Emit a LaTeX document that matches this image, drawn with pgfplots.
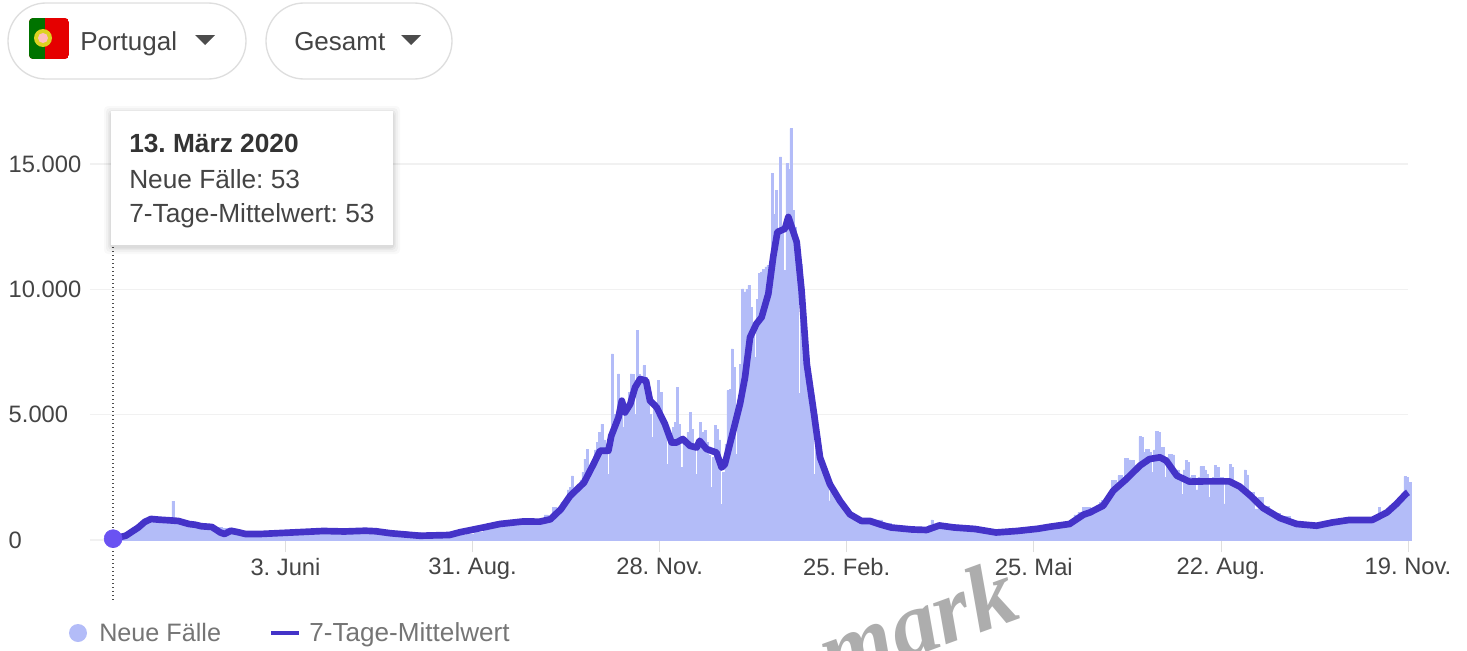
\documentclass[border=0pt]{standalone}
\usepackage{fontspec}
\setmainfont{Liberation Sans}
\newfontfamily\wmfont{Liberation Serif}
\usepackage{pgfplots}
\usepackage{pgfplotstable}
\pgfplotsset{compat=1.18}
\definecolor{barc}{HTML}{B3BCF8}
\definecolor{linec}{HTML}{4433C8}
\definecolor{markc}{HTML}{6A52F2}
\definecolor{gridc}{HTML}{F1F1F1}
\definecolor{txtc}{HTML}{444444}
\definecolor{legc}{HTML}{757575}
\frenchspacing
\pgfplotstableread[row sep=\\]{
d v\\
0 53\\ 2 60\\ 4 120\\ 6 180\\ 8 300\\ 10 400\\ 12 600\\ 14 700\\ 16 800\\ 18 900\\ 20 850\\ 22 780\\ 24 850\\ 27 800\\ 28 1550\\ 29 800\\ 31 800\\ 33 750\\ 35 700\\ 37 650\\ 39 600\\ 41 560\\ 43 500\\ 46 520\\ 49 500\\ 52 450\\ 55 350\\ 57 280\\ 59 230\\ 61 200\\ 63 300\\ 65 330\\ 67 310\\ 69 250\\ 71 180\\ 73 200\\ 76 190\\ 80 200\\ 84 220\\ 90 250\\ 96 300\\ 102 340\\ 108 360\\ 114 300\\ 118 340\\ 124 370\\ 130 360\\ 136 350\\ 140 300\\ 146 220\\ 150 190\\ 156 170\\ 162 190\\ 168 240\\ 172 300\\ 176 380\\ 178 450\\ 180 550\\ 184 640\\ 188 700\\ 190 720\\ 194 760\\ 198 820\\ 200 780\\ 203 750\\
205 1000\\ 207 900\\ 209 1300\\ 211 1100\\ 213 1500\\ 215 1600\\ 216 2000\\ 217 2100\\ 218 2560\\ 219 1900\\ 220 2050\\ 221 2200\\ 222 2400\\ 223 2700\\ 224 3225\\ 225 3625\\ 226 2700\\ 227 2800\\ 228 3200\\ 229 3600\\ 230 3900\\ 231 4300\\ 232 4625\\ 233 4000\\ 234 3500\\ 235 2625\\ 236 3500\\ 237 7425\\ 238 5000\\ 239 4500\\ 240 6625\\ 241 5500\\ 242 4490\\ 243 5000\\ 244 5200\\ 245 5900\\ 246 6625\\ 247 6600\\ 248 5000\\ 249 8360\\ 250 6600\\ 251 6500\\ 252 6960\\ 253 6500\\ 254 5600\\ 255 5000\\ 256 4090\\ 257 5300\\ 258 5500\\ 259 6360\\ 260 5900\\ 261 4900\\ 262 4300\\ 263 3025\\ 264 4000\\ 265 3900\\ 266 4500\\ 267 4700\\ 268 6090\\ 269 4600\\ 270 2890\\ 271 3900\\ 272 3800\\ 273 4300\\ 274 5090\\ 275 4400\\ 276 3700\\ 277 2625\\ 278 3800\\ 279 4690\\ 280 4300\\ 281 4360\\ 282 3900\\ 283 3400\\ 284 2090\\ 285 3300\\ 286 4560\\ 287 4400\\ 288 4000\\ 289 1430\\ 290 2700\\ 291 3825\\ 292 5960\\ 293 6000\\ 294 7625\\ 295 6890\\ 296 3425\\ 297 5500\\ 298 7000\\ 299 10025\\ 300 9900\\ 301 10000\\ 302 10160\\ 303 9290\\ 304 8500\\ 305 7290\\ 306 9600\\ 307 10625\\ 308 10700\\ 309 10800\\ 310 10900\\ 311 10960\\ 312 9800\\ 313 14620\\ 314 13000\\ 315 13960\\ 316 12000\\ 317 15290\\ 318 12500\\ 319 10760\\ 320 15020\\ 321 14800\\ 322 16420\\ 323 13160\\ 324 12500\\ 325 12000\\ 326 5860\\ 327 11000\\ 328 9500\\ 329 8000\\ 330 7300\\ 331 6500\\ 332 6000\\ 333 2625\\ 334 5000\\ 335 4000\\ 336 3300\\ 337 3200\\ 338 2800\\ 339 2600\\ 340 1560\\ 341 2200\\ 342 2000\\ 343 1800\\ 344 1650\\ 345 1500\\ 347 1300\\ 349 1100\\ 351 950\\ 353 850\\ 355 800\\ 358 780\\ 362 800\\ 366 650\\ 370 520\\ 375 450\\ 380 420\\ 386 450\\ 388 600\\ 389 800\\ 390 500\\ 393 650\\ 397 600\\ 403 520\\ 410 450\\ 416 340\\ 422 320\\ 428 370\\ 434 420\\ 440 500\\ 445 600\\ 450 650\\ 455 700\\ 457 1000\\ 459 1100\\ 461 1300\\ 465 1200\\ 469 1500\\ 470 1570\\ 472 1500\\ 473 1700\\ 475 2370\\ 477 2300\\ 478 2570\\ 480 2500\\ 481 3260\\ 483 3200\\ 484 3165\\ 486 3000\\ 487 2900\\ 488 4120\\ 489 4100\\ 490 3500\\ 491 3630\\ 493 3500\\ 494 2700\\ 495 3600\\ 496 4335\\ 497 4300\\ 498 3700\\ 500 2500\\ 501 3300\\ 502 3430\\ 504 3400\\ 505 2800\\ 507 2600\\ 508 1835\\ 509 2800\\ 510 3165\\ 511 3100\\ 512 2500\\ 513 2570\\ 515 2000\\ 516 2500\\ 517 2930\\ 519 2800\\ 520 2630\\ 521 1700\\ 522 2400\\ 523 2500\\ 524 2970\\ 525 2900\\ 526 2500\\ 528 1440\\ 529 2400\\ 531 3030\\ 532 2900\\ 533 2300\\ 535 2200\\ 537 2100\\ 538 2800\\ 539 2600\\ 540 1800\\ 541 1900\\ 543 1240\\ 545 1700\\ 547 1350\\ 550 1050\\ 555 950\\ 560 720\\ 565 640\\ 572 620\\ 580 740\\ 590 830\\ 598 850\\ 601 850\\ 602 1300\\ 603 1100\\ 606 1150\\ 608 1400\\ 610 1600\\ 612 1750\\ 614 2530\\ 615 2500\\ 616 2300\\ 617.5 2300\\
}\bardata
\pgfplotstableread[row sep=\\]{
d v\\
0 53\\ 6 170\\ 12 500\\ 15 720\\ 18 840\\ 22 810\\ 26 790\\ 31 760\\ 36 640\\ 39 610\\ 42 550\\ 47 520\\ 51 300\\ 53 240\\ 56 370\\ 59 320\\ 63 240\\ 70 240\\ 80 280\\ 90 320\\ 100 360\\ 110 340\\ 120 370\\ 125 350\\ 132 270\\ 146 170\\ 160 200\\ 165 310\\ 175 480\\ 184 640\\ 195 740\\ 203 733\\ 208 826\\ 213 1226\\ 217.4 1760\\ 224 2290\\ 228.5 3025\\ 231.6 3560\\ 235.6 3560\\ 237 4160\\ 240.4 4890\\ 242 5560\\ 243.5 5090\\ 246 5425\\ 248.3 6090\\ 250.7 6425\\ 253.5 6360\\ 255.4 5560\\ 258.6 5290\\ 262.5 4630\\ 265.7 3890\\ 268 3890\\ 271 4030\\ 274.4 3760\\ 277.6 3690\\ 279 3960\\ 282.3 3630\\ 287 3490\\ 289.5 2890\\ 291 3025\\ 294.2 4090\\ 298.2 5425\\ 300.6 6490\\ 303 8090\\ 306 8625\\ 308.5 8890\\ 311.7 9825\\ 314 11290\\ 316 12290\\ 319.6 12420\\ 321.2 12890\\ 325.2 11890\\ 327.5 9960\\ 330 7025\\ 333 5290\\ 336.3 3290\\ 341 2225\\ 345.8 1560\\ 350.5 1026\\ 356 760\\ 360 760\\ 365 620\\ 370 500\\ 380 420\\ 387 400\\ 393 580\\ 400 500\\ 410 440\\ 420 300\\ 430 360\\ 440 450\\ 445.7 530\\ 455 640\\ 461.6 1010\\ 464.7 1100\\ 471 1370\\ 475.8 1970\\ 482 2430\\ 488.5 2970\\ 493 3230\\ 498 3300\\ 501 3165\\ 506 2570\\ 512 2330\\ 520 2340\\ 531 2340\\ 536 2130\\ 541 1770\\ 547 1280\\ 555 880\\ 563 640\\ 572.5 570\\ 580 700\\ 588 800\\ 599 800\\ 606 1100\\ 610.5 1440\\ 615 1840\\ 616 1900\\
}\linedata
\begin{document}
\begin{tikzpicture}
\path[use as bounding box,clip] (0,0) rectangle (1100.25pt,-487.5pt);
\begin{axis}[
  at={(67.5pt,-405pt)},anchor=south west,
  scale only axis,width=988.5pt,height=319.5pt,
  xmin=-11,xmax=616,ymin=0,ymax=17000,clip=false,
  scaled y ticks=false,
  axis line style={draw=none},
  xtick={82,171,260,349,438,527,616},
  xticklabels={3. Juni,31. Aug.,28. Nov.,25. Feb.,25. Mai,22. Aug.,19. Nov.},
  ytick={0,5000,10000,15000},
  yticklabels={0,5.000,10.000,15.000},
  xtick pos=lower,ytick pos=left,tick align=outside,
  xtick style={draw=gridc!92!black,line width=.6pt},
  major tick length=9pt,
  ytick style={draw=none},
  ymajorgrids,grid style={draw=gridc,line width=1pt},
  tick label style={font=\fontsize{17.8}{20}\selectfont,text=txtc},
  xticklabel style={yshift=-1pt},
  yticklabel style={anchor=west,xshift=-55.5pt},
]
\addplot[const plot mark left,fill=barc,draw=barc,line width=.4pt] table[x=d,y=v] {\bardata} \closedcycle;
\addplot[linec,line width=5pt,line join=round,no markers] table[x=d,y=v] {\linedata};
\addplot[dotted,black!70,line width=1pt] coordinates {(0,-2394) (0,11770)};
\addplot[only marks,mark=*,mark size=6.75pt,color=markc,mark options={fill=markc,draw=markc}] coordinates {(0,53)};
\end{axis}
\begin{scope}[x=.75pt,y=-.75pt]
% legend
\fill[barc] (78,633) circle (9);
\node[anchor=base west,inner sep=0,text=legc,font=\fontsize{18.9}{21}\selectfont] at (99,641) {Neue Fälle};
\draw[linec,line width=3pt] (271,633) -- (299,633);
\node[anchor=base west,inner sep=0,text=legc,font=\fontsize{19.6}{22}\selectfont] at (309,641) {7-Tage-Mittelwert};
% tooltip
\foreach \o/\a in {7/.025,5/.03,3/.04,1.5/.05}{
  \fill[black,opacity=\a,rounded corners=3pt] (111-\o,111-\o+2) rectangle (393+\o,245+\o+2);
}
\fill[white] (111,111) rectangle (393,245);
\node[anchor=base west,inner sep=0,text=black!80,font=\fontsize{19.7}{22}\selectfont\bfseries] at (129,152) {13. März 2020};
\node[anchor=base west,inner sep=0,text=txtc,font=\fontsize{19.7}{22}\selectfont] at (129,188) {Neue Fälle: 53};
\node[anchor=base west,inner sep=0,text=txtc,font=\fontsize{19.7}{22}\selectfont] at (129,222) {7-Tage-Mittelwert: 53};
% pills
\draw[black!13,line width=1pt,fill=white,rounded corners=28.5pt] (8,3) rectangle (246,79);
\draw[black!13,line width=1pt,fill=white,rounded corners=28.5pt] (266,3) rectangle (452,79);
\begin{scope}
\clip[rounded corners=3pt] (29,18) rectangle (69,59);
\fill[red!90!black] (29,18) rectangle (69,59);
\fill[green!45!black] (29,18) rectangle (45,59);
\end{scope}
\fill[yellow!85!black] (43,38) circle (9);
\fill[white!75!red] (43,38) circle (5);
\node[anchor=base west,inner sep=0,text=txtc,font=\fontsize{19.5}{22}\selectfont] at (80,50) {Portugal};
\node[anchor=base west,inner sep=0,text=txtc,font=\fontsize{19.5}{22}\selectfont] at (294,50) {Gesamt};
\fill[black!70] (195,35) -- (215,35) -- (205,45) -- cycle;
\fill[black!70] (401,35) -- (421,35) -- (411,45) -- cycle;
% overlaid text
\node[text=black!32,rotate=20,inner sep=0,font=\fontsize{70}{78}\selectfont\wmfont\bfseries\itshape] at (917,622) {mark};
\end{scope}
\end{tikzpicture}
\end{document}
